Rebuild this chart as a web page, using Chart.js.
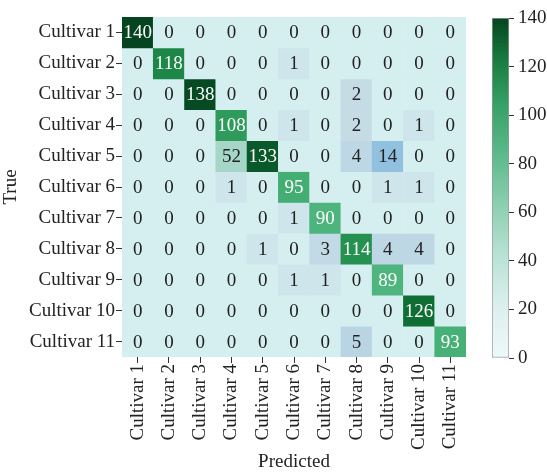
<!DOCTYPE html>
<html>
<head>
<meta charset="utf-8">
<script src="https://cdn.jsdelivr.net/npm/chart.js@4"></script>
<style>
  body { margin: 0; background: #ffffff; }
  #wrap { position: relative; width: 547px; height: 473px; }
  #matrixChart { position: absolute; left: 0; top: 0; }
  #scaleChart { position: absolute; left: 480px; top: 0; }
</style>
</head>
<body>
<div id="wrap">
  <canvas id="matrixChart" width="547" height="473"></canvas>
  <canvas id="scaleChart" width="67" height="473"></canvas>
</div>
<script>
const predictedLabels = ["Cultivar 1", "Cultivar 2", "Cultivar 3", "Cultivar 4", "Cultivar 5", "Cultivar 6",
  "Cultivar 7", "Cultivar 8", "Cultivar 9", "Cultivar 10", "Cultivar 11"];
const trueLabels = ["Cultivar 1", "Cultivar 2", "Cultivar 3", "Cultivar 4", "Cultivar 5", "Cultivar 6",
  "Cultivar 7", "Cultivar 8", "Cultivar 9", "Cultivar 10", "Cultivar 11"];

// rows = true class, columns = predicted class
const counts = [
  [140, 0, 0, 0, 0, 0, 0, 0, 0, 0, 0],
  [0, 118, 0, 0, 0, 1, 0, 0, 0, 0, 0],
  [0, 0, 138, 0, 0, 0, 0, 2, 0, 0, 0],
  [0, 0, 0, 108, 0, 1, 0, 2, 0, 1, 0],
  [0, 0, 0, 52, 133, 0, 0, 4, 14, 0, 0],
  [0, 0, 0, 1, 0, 95, 0, 0, 1, 1, 0],
  [0, 0, 0, 0, 0, 1, 90, 0, 0, 0, 0],
  [0, 0, 0, 0, 1, 0, 3, 114, 4, 4, 0],
  [0, 0, 0, 0, 0, 1, 1, 0, 89, 0, 0],
  [0, 0, 0, 0, 0, 0, 0, 0, 0, 126, 0],
  [0, 0, 0, 0, 0, 0, 0, 5, 0, 0, 93]
];

const scaleMin = 0;
const scaleMax = 140;
const scaleTicks = [0, 20, 40, 60, 80, 100, 120, 140];

const fontFamily = "'Liberation Serif', 'DejaVu Serif', serif";
const textColor = "#222222";

// cell colour stops: [value, [r, g, b]]
const cellStops = [
  [0, [213, 239, 241]],
  [2, [198, 220, 229]],
  [14, [146, 192, 223]],
  [52, [166, 214, 200]],
  [90, [76, 180, 124]],
  [115, [34, 144, 78]],
  [126, [15, 110, 51]],
  [140, [5, 68, 32]]
];

// colour bar gradient stops (fraction of range, colour)
const barStops = [
  [0, "#eef8fa"],
  [0.15, "#dcf0ee"],
  [0.3, "#b9e2d5"],
  [0.45, "#8ccfb0"],
  [0.6, "#5cb98a"],
  [0.75, "#35a064"],
  [0.88, "#187a3e"],
  [1, "#05441f"]
];

function cellColor(value) {
  for (let i = 1; i < cellStops.length; i++) {
    const [v1, c1] = cellStops[i];
    const [v0, c0] = cellStops[i - 1];
    if (value <= v1) {
      const t = (value - v0) / (v1 - v0);
      const c = c0.map((ch, k) => Math.round(ch + (c1[k] - ch) * t));
      return `rgb(${c[0]}, ${c[1]}, ${c[2]})`;
    }
  }
  const last = cellStops[cellStops.length - 1][1];
  return `rgb(${last[0]}, ${last[1]}, ${last[2]})`;
}

const datasets = trueLabels.map((label, row) => ({
  label,
  data: predictedLabels.map(() => [row - 0.5, row + 0.5]),
  backgroundColor: counts[row].map(cellColor),
  borderWidth: 0,
  grouped: false,
  barPercentage: 1,
  categoryPercentage: 1
}));

const cellText = {
  id: "cellText",
  afterDatasetsDraw(chart) {
    const { ctx } = chart;
    ctx.save();
    ctx.font = `19px ${fontFamily}`;
    ctx.textAlign = "center";
    ctx.textBaseline = "middle";
    chart.data.datasets.forEach((ds, row) => {
      chart.getDatasetMeta(row).data.forEach((bar, col) => {
        const value = counts[row][col];
        const { x, y } = bar.getCenterPoint();
        ctx.fillStyle = value > 70 ? "#ffffff" : textColor;
        ctx.fillText(String(value), x, y + 1);
      });
    });
    ctx.restore();
  }
};

new Chart(document.getElementById("matrixChart"), {
  type: "bar",
  data: { labels: predictedLabels, datasets },
  options: {
    responsive: false,
    animation: false,
    devicePixelRatio: 1,
    layout: { padding: { top: 17, right: 81, left: 0, bottom: 0 } },
    plugins: { legend: { display: false }, tooltip: { enabled: false } },
    scales: {
      x: {
        type: "category",
        offset: true,
        grid: { offset: false, drawOnChartArea: false, drawTicks: true, tickLength: 6, color: "#333333" },
        border: { display: false },
        ticks: {
          autoSkip: false, maxRotation: 90, minRotation: 90, padding: 1,
          color: textColor, font: { family: fontFamily, size: 19 }
        },
        title: {
          display: true, text: "Predicted", color: textColor,
          font: { family: fontFamily, size: 19 }, padding: { top: 0, bottom: 0 }
        },
        afterFit(scale) { scale.height = 116; }
      },
      y: {
        type: "linear",
        min: -0.5,
        max: trueLabels.length - 0.5,
        reverse: true,
        afterBuildTicks(scale) { scale.ticks = trueLabels.map((_, i) => ({ value: i })); },
        grid: { drawOnChartArea: false, drawTicks: true, tickLength: 6, color: "#333333" },
        border: { display: false },
        ticks: {
          autoSkip: false, padding: 1, color: textColor,
          font: { family: fontFamily, size: 19 },
          callback: (value) => trueLabels[value]
        },
        title: {
          display: true, text: "True", color: textColor,
          font: { family: fontFamily, size: 19 }, padding: { top: 0, bottom: 0 }
        },
        afterFit(scale) { scale.width = 122; }
      }
    }
  },
  plugins: [cellText]
});

new Chart(document.getElementById("scaleChart"), {
  type: "bar",
  data: {
    labels: ["count"],
    datasets: [{
      data: [[scaleMin, scaleMax]],
      backgroundColor(context) {
        const { chart } = context;
        const area = chart.chartArea;
        if (!area) return barStops[0][1];
        const g = chart.ctx.createLinearGradient(0, area.bottom, 0, area.top);
        barStops.forEach(([t, c]) => g.addColorStop(t, c));
        return g;
      },
      borderColor: "#9a9a9a",
      borderWidth: 1,
      borderSkipped: false,
      barPercentage: 1,
      categoryPercentage: 1
    }]
  },
  options: {
    responsive: false,
    animation: false,
    devicePixelRatio: 1,
    layout: { padding: { top: 18, left: 12, right: 0, bottom: 115 } },
    plugins: { legend: { display: false }, tooltip: { enabled: false } },
    scales: {
      x: { display: false },
      y: {
        position: "right",
        min: scaleMin,
        max: scaleMax,
        afterBuildTicks(scale) { scale.ticks = scaleTicks.map((v) => ({ value: v })); },
        grid: { drawOnChartArea: false, drawTicks: true, tickLength: 5, color: "#333333" },
        border: { display: false },
        ticks: { padding: 4, color: textColor, font: { family: fontFamily, size: 19 } },
        afterFit(scale) { scale.width = 38; }
      }
    }
  }
});
</script>
</body>
</html>
